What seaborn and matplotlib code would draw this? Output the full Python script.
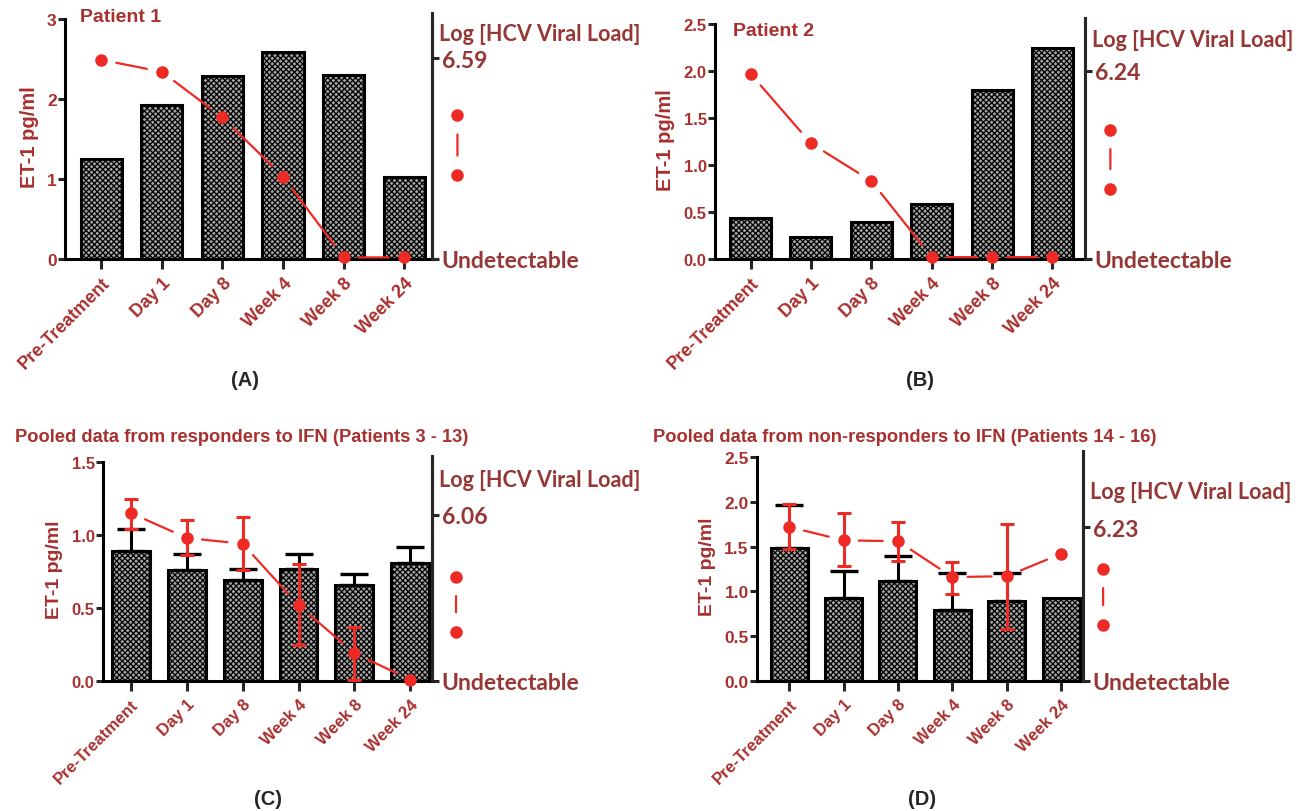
import numpy as np
import seaborn as sns
import matplotlib.pyplot as plt

sns.set_style('white')
plt.rcParams['font.family'] = ['Liberation Sans', 'DejaVu Sans']
plt.rcParams['hatch.linewidth'] = 0.9

# data (ET-1 bars in pg/ml, red = viral load drawn on the left scale)
timepoints = ['Pre-Treatment', 'Day 1', 'Day 8', 'Week 4', 'Week 8', 'Week 24']

bars_a = [1.25, 1.93, 2.29, 2.59, 2.30, 1.03]
virus_a = [2.49, 2.34, 1.77, 1.03, 0.02, 0.02]

bars_b = [0.44, 0.23, 0.39, 0.58, 1.80, 2.24]
virus_b = [1.97, 1.23, 0.83, 0.02, 0.02, 0.02]

bars_c = [0.89, 0.76, 0.69, 0.77, 0.66, 0.81]
bars_c_top = [1.04, 0.87, 0.77, 0.87, 0.73, 0.92]
virus_c = [1.15, 0.98, 0.94, 0.52, 0.19, 0.01]
virus_c_lo = [1.04, 0.86, 0.76, 0.25, 0.01, None]
virus_c_hi = [1.25, 1.10, 1.12, 0.80, 0.37, None]

bars_d = [1.48, 0.93, 1.12, 0.79, 0.89, 0.93]
bars_d_top = [1.96, 1.23, 1.40, 1.21, 1.21, None]
virus_d = [1.72, 1.57, 1.56, 1.16, 1.17, 1.42]
virus_d_lo = [1.47, 1.28, 1.34, 0.97, 0.58, None]
virus_d_hi = [1.97, 1.87, 1.77, 1.33, 1.75, None]

right_tick_a, right_lab_a = 2.51, '6.59'
right_tick_b, right_lab_b = 2.00, '6.24'
right_tick_c, right_lab_c = 1.14, '6.06'
right_tick_d, right_lab_d = 1.715, '6.23'

TXT = '#a8302f'
RLAB = '#953735'
RED = '#ee2a24'

fig = plt.figure(figsize=(12.99, 8.12), dpi=100)
W, H = 1299, 812


def make_ax(left_px, right_px, zero_px, px_per_unit, ytop):
    height = ytop * px_per_unit
    return fig.add_axes([left_px / W, 1 - zero_px / H, (right_px - left_px) / W, height / H])


def draw_panel(ax, bars, virus, yticks, ymax, ytop, xlim, fmt, right_tick, right_lab,
               bar_top=None, v_lo=None, v_hi=None, fs_tick=11, fs_x=11, fs_ylab=13,
               leg=(5.9, 1.8, 1.05), log_y=None):
    sns.barplot(x=timepoints, y=bars, ax=ax, color='#a4a4a4', edgecolor='black',
                linewidth=2.2, width=0.68, zorder=2)
    for p in ax.patches:
        p.set_hatch('xxxxxx')
    ax.set_xlim(*xlim)
    ax.set_ylim(0, ytop)
    xs = np.arange(len(timepoints))

    if bar_top is not None:
        idx = [i for i, t in enumerate(bar_top) if t is not None]
        ax.errorbar(xs[idx], [bars[i] for i in idx],
                    yerr=[[0] * len(idx), [bar_top[i] - bars[i] for i in idx]],
                    fmt='none', ecolor='black', elinewidth=2.2, capsize=10, capthick=2.4, zorder=3)

    # red line with gaps at the markers
    for i in range(len(virus) - 1):
        ax.annotate('', xy=(xs[i + 1], virus[i + 1]), xytext=(xs[i], virus[i]),
                    arrowprops=dict(arrowstyle='-', color=RED, lw=1.6, shrinkA=11, shrinkB=11),
                    zorder=4)
    if v_lo is not None:
        idx = [i for i, t in enumerate(v_lo) if t is not None]
        ax.errorbar(xs[idx], [virus[i] for i in idx],
                    yerr=[[virus[i] - v_lo[i] for i in idx], [v_hi[i] - virus[i] for i in idx]],
                    fmt='none', ecolor=RED, elinewidth=2.2, capsize=5, capthick=2.2, zorder=5)
    ax.plot(xs, virus, 'o', color=RED, ms=8, zorder=6, clip_on=False)

    # legend symbol to the right
    lx, ly1, ly2 = leg
    ax.plot([lx, lx], [ly1, ly2], 'o', color=RED, ms=8, clip_on=False)
    ax.annotate('', xy=(lx, ly2), xytext=(lx, ly1),
                arrowprops=dict(arrowstyle='-', color=RED, lw=1.6, shrinkA=14, shrinkB=14),
                annotation_clip=False)

    # axes styling
    ax.spines['top'].set_visible(False)
    for s in ['left', 'bottom', 'right']:
        ax.spines[s].set_linewidth(2.2)
        ax.spines[s].set_color('black')
    ax.spines['left'].set_bounds(0, ymax)
    ax.set_yticks(yticks)
    ax.set_yticklabels([fmt.format(v) for v in yticks], color=TXT,
                       fontsize=fs_tick, fontweight='bold')
    ax.set_xticks(xs)
    ax.set_xticklabels(timepoints, rotation=45, ha='right', rotation_mode='anchor',
                       color=TXT, fontsize=fs_x, fontweight='bold')
    ax.tick_params(axis='y', length=5, width=2.2, direction='out', left=True, pad=1)
    ax.tick_params(axis='x', length=7, width=2.2, direction='out', bottom=True, pad=4)
    ax.set_ylabel('ET-1 pg/ml', color=TXT, fontsize=fs_ylab, fontweight='bold', labelpad=6)
    ax.set_xlabel('')

    ax2 = ax.twinx()
    ax2.set_ylim(ax.get_ylim())
    for s in ['top', 'left', 'bottom']:
        ax2.spines[s].set_visible(False)
    ax2.spines['right'].set_linewidth(2.2)
    ax2.set_yticks([0, right_tick])
    ax2.set_yticklabels(['Undetectable', right_lab], color=RLAB, fontsize=16.5,
                        fontweight='bold', family=['Lato', 'DejaVu Sans'])
    ax2.tick_params(axis='y', length=5, width=2.2, direction='out', right=True, pad=2)
    ax2.text(1.02, log_y, 'Log [HCV Viral Load]', transform=ax2.get_yaxis_transform(),
             color=RLAB, fontsize=15.5, fontweight='bold', family=['Lato', 'DejaVu Sans'],
             ha='left', va='center')


# Panel A
ax = make_ax(65, 432, 260, 80, 3.08)
draw_panel(ax, bars_a, virus_a, [0, 1, 2, 3], 3, 3.08, (-0.6, 5.46), '{:.0f}',
           right_tick_a, right_lab_a, fs_tick=12.5, fs_x=13, fs_ylab=14.5,
           leg=(5.88, 1.80, 1.05), log_y=2.82)
fig.text(80 / W, 1 - 18 / H, 'Patient 1', color=TXT, fontsize=14, fontweight='bold', va='center')

# Panel B
ax = make_ax(715, 1085, 260, 94, 2.56)
draw_panel(ax, bars_b, virus_b, [0, 0.5, 1.0, 1.5, 2.0, 2.5], 2.5, 2.56, (-0.59, 5.54), '{:.1f}',
           right_tick_b, right_lab_b, fs_tick=12, fs_x=13, fs_ylab=14.5,
           leg=(5.96, 1.376, 0.75), log_y=2.34)
fig.text(733 / W, 1 - 32 / H, 'Patient 2', color=TXT, fontsize=14, fontweight='bold', va='center')

# Panel C
ax = make_ax(103, 432, 682, 146, 1.54)
draw_panel(ax, bars_c, virus_c, [0, 0.5, 1.0, 1.5], 1.5, 1.54, (-0.5, 5.39), '{:.1f}',
           right_tick_c, right_lab_c, bar_top=bars_c_top, v_lo=virus_c_lo, v_hi=virus_c_hi,
           fs_tick=12, fs_x=12, fs_ylab=14, leg=(5.82, 0.715, 0.338), log_y=1.38)
fig.text(15 / W, 1 - 438 / H, 'Pooled data from responders to IFN (Patients 3 - 13)',
         color=TXT, fontsize=13.2, fontweight='bold', va='center')

# Panel D
ax = make_ax(757, 1083, 682, 89.6, 2.57)
draw_panel(ax, bars_d, virus_d, [0, 0.5, 1.0, 1.5, 2.0, 2.5], 2.5, 2.57, (-0.59, 5.4), '{:.1f}',
           right_tick_d, right_lab_d, bar_top=bars_d_top, v_lo=virus_d_lo, v_hi=virus_d_hi,
           fs_tick=12.5, fs_x=12, fs_ylab=14, leg=(5.77, 1.255, 0.63), log_y=2.12)
fig.text(653 / W, 1 - 438 / H, 'Pooled data from non-responders to IFN (Patients 14 - 16)',
         color=TXT, fontsize=13.2, fontweight='bold', va='center')

for lab, x, y in [('(A)', 245, 381), ('(B)', 920, 381), ('(C)', 268, 800), ('(D)', 922, 800)]:
    fig.text(x / W, 1 - y / H, lab, fontsize=14.5, fontweight='bold', ha='center', va='center')

fig.savefig('out.png', dpi=100)
